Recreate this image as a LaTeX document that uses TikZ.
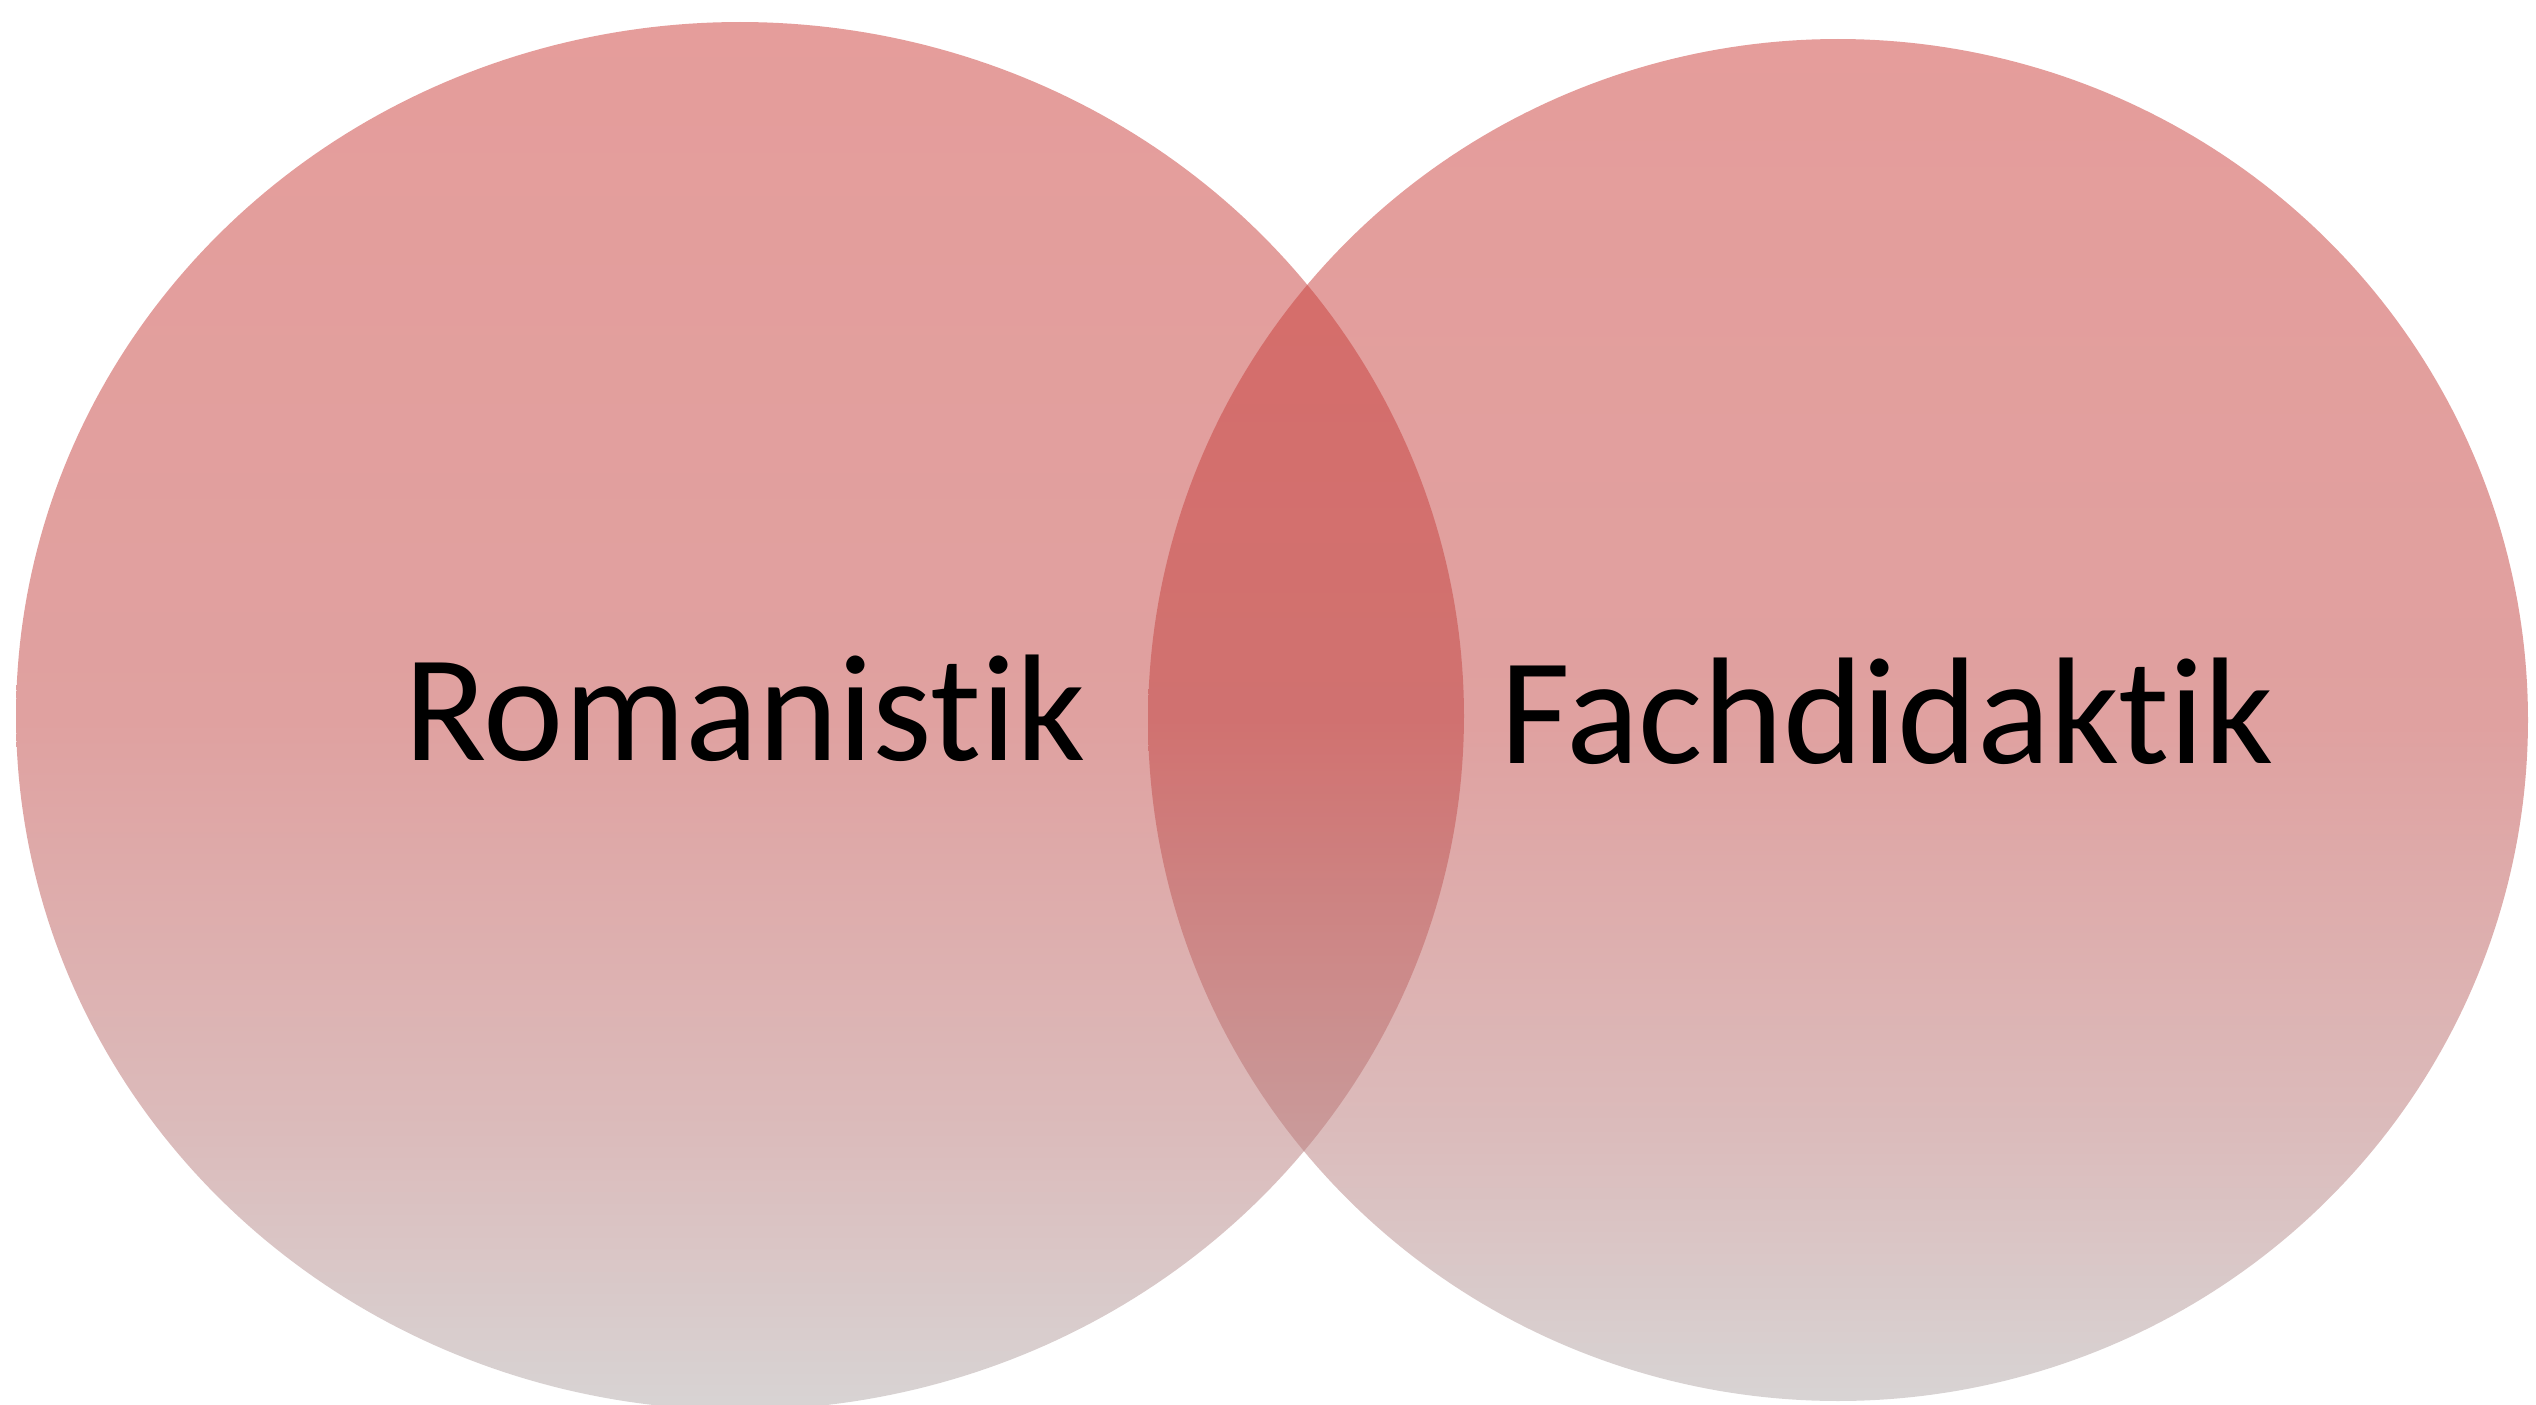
\documentclass[tikz,border=0pt]{standalone}
\usepackage{fontspec}
\setmainfont[Ligatures={NoCommon,NoRare,NoContextual}]{Carlito}
\definecolor{ctop}{RGB}{203,59,55}
\definecolor{cmid}{RGB}{193,67,65}
\definecolor{clow}{RGB}{184,120,120}
\definecolor{cbot}{RGB}{177,169,169}
\pgfdeclareverticalshading{venn}{100bp}{color(0bp)=(cbot); color(25bp)=(cbot); color(35bp)=(clow); color(50bp)=(cmid); color(75bp)=(ctop); color(100bp)=(ctop)}
\tikzset{
  vennset/.style={shading=venn, fill opacity=0.5, draw=none},
  label/.style={font=\fontsize{152}{160}\selectfont, text=black, anchor=base, inner sep=0pt}
}
\begin{document}
\begin{tikzpicture}[x=1pt,y=-1pt]
\useasboundingbox (0,0) rectangle (2536,1405);
\clip (0,0) rectangle (2536,1405);
\begin{scope}
  \clip plot[domain=0:360, samples=361, variable=\t] ({740+724*cos(\t)},{716+694*sin(\t)}) -- cycle;
  \shade[vennset] (10,22) rectangle (1470,1410);
\end{scope}
\begin{scope}
  \clip plot[domain=0:360, samples=361, variable=\t] ({1838+690*cos(\t)},{720+681*sin(\t)}) -- cycle;
  \shade[vennset] (1142,39) rectangle (2534,1401);
\end{scope}
\node[label] (rom) at (745,760) {Romanistik};
\node[label] (fach) at (1887,763) {Fachdidaktik};
\end{tikzpicture}
\end{document}
